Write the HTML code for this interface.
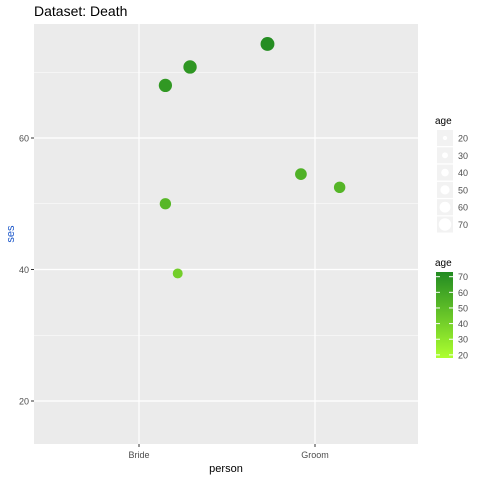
<!DOCTYPE html>
<html><head><meta charset="utf-8"><style>
body{margin:0;background:#fff}
svg text{font-family:"Liberation Sans",sans-serif}
</style></head><body>
<svg id="c" width="480" height="480" viewBox="0 0 480 480">
<defs><linearGradient id="g" x1="0" y1="1" x2="0" y2="0"><stop offset="0" stop-color="#ADFF2F"/><stop offset="1" stop-color="#228B22"/></linearGradient></defs>
<text x="34" y="16" font-size="14" fill="#000">Dataset: Death</text>
<rect x="34" y="24" width="384" height="420" fill="#EBEBEB"/>
<g id="grid"></g><g id="pts"></g><g id="axes"></g>
<text x="226" y="472" font-size="11" text-anchor="middle" fill="#000">person</text>
<text transform="translate(14,234) rotate(-90)" font-size="11" text-anchor="middle" fill="#1a56c9">ses</text>
<g id="leg"></g>
</svg>
<script>
const categories=["Bride","Groom"];
const pointPerson=["Bride","Bride","Groom","Bride","Bride","Groom","Groom"];
const pointJitter=[0.15,0.29,-0.27,0.15,0.22,-0.08,0.14];
const pointSes=[68,70.8,74.3,50,39.4,54.5,52.5];
const pointAge=[67,68,72,52,41,55,53];
const yTicks=[20,40,60];
const legendAges=[20,30,40,50,60,70];
const ns="http://www.w3.org/2000/svg";
function mk(t,a,p){const e=document.createElementNS(ns,t);for(const k in a)e.setAttribute(k,a[k]);document.getElementById(p).appendChild(e);return e;}
const X=i=>139+i*176;
const Y=v=>401-(v-20)*6.575;
const ageMin=18,ageMax=73;
const T=a=>Math.max(0,Math.min(1,(a-ageMin)/(ageMax-ageMin)));
const R=a=>3.5+T(a)*3.5;
function col(a){const t=T(a);const c0=[173,255,47],c1=[34,139,34];return `rgb(${c0.map((v,i)=>Math.round(v+(c1[i]-v)*t)).join(',')})`;}
for(let v=30;v<=70;v+=20){const l=mk('line',{x1:34,x2:418,y1:Y(v),y2:Y(v),stroke:'#fff','stroke-width':0.6},'grid');

}
yTicks.forEach(v=>{const l=mk('line',{x1:34,x2:418,y1:Y(v),y2:Y(v),stroke:'#fff','stroke-width':1.2},'grid');


mk('line',{x1:31,x2:34,y1:Y(v),y2:Y(v),stroke:'#333'},'axes');
const t=mk('text',{x:29,y:Y(v)+3.5,'font-size':9,'text-anchor':'end',fill:'#4d4d4d'},'axes');t.textContent=v;

});
categories.forEach((c,i)=>{const l=mk('line',{x1:X(i),x2:X(i),y1:24,y2:444,stroke:'#fff','stroke-width':1.2},'grid');


mk('line',{x1:X(i),x2:X(i),y1:444,y2:447,stroke:'#333'},'axes');
const t=mk('text',{x:X(i),y:458,'font-size':9,'text-anchor':'middle',fill:'#4d4d4d'},'axes');t.textContent=c;

});
pointSes.forEach((s,i)=>{const ci=categories.indexOf(pointPerson[i]);
const p=mk('circle',{cx:X(ci+pointJitter[i]),cy:Y(s),r:R(pointAge[i]),fill:col(pointAge[i])},'pts');

});
let t=mk('text',{x:435,y:124,'font-size':10,fill:'#000'},'leg');t.textContent='age';


legendAges.forEach((a,i)=>{const y=130+i*17.3;
mk('rect',{x:437,y:y,width:16,height:16,fill:'#F2F2F2'},'leg');
const c=mk('circle',{cx:445,cy:y+8,r:2+T(a)*4.5,fill:'#fff'},'leg');


const l=mk('text',{x:458,y:y+11.5,'font-size':9,fill:'#4d4d4d'},'leg');l.textContent=a;

});
t=mk('text',{x:435,y:266,'font-size':10,fill:'#000'},'leg');t.textContent='age';


const bar=mk('rect',{x:436,y:272,width:17,height:86,fill:'url(#g)'},'leg');


const CB=a=>358-T(a)*86;
legendAges.forEach(a=>{const y=CB(a);
mk('line',{x1:436,x2:440,y1:y,y2:y,stroke:'#fff'},'leg');mk('line',{x1:449,x2:453,y1:y,y2:y,stroke:'#fff'},'leg');
const l=mk('text',{x:458,y:y+3.5,'font-size':9,fill:'#4d4d4d'},'leg');l.textContent=a;

});
</script>
</body></html>
